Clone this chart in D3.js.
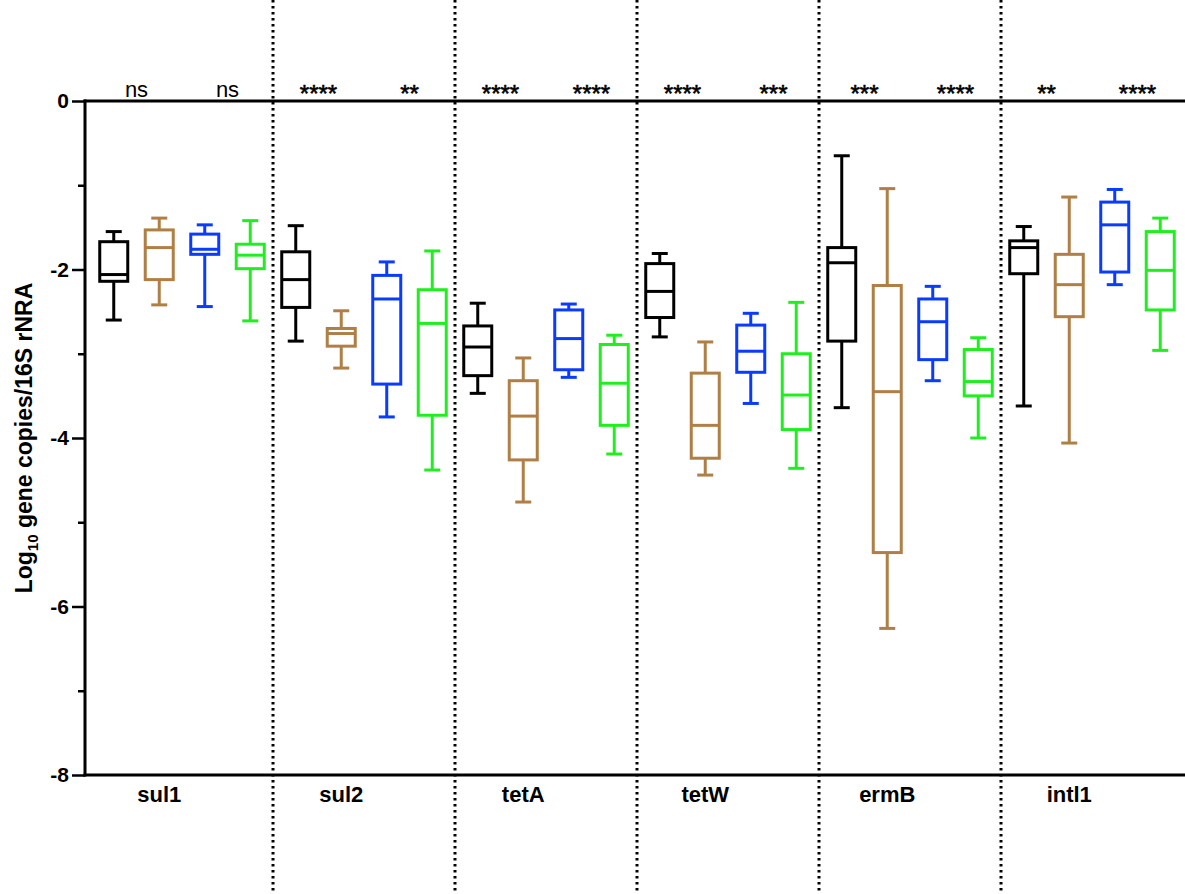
<!DOCTYPE html>
<html><head><meta charset="utf-8">
<script src="https://cdn.jsdelivr.net/npm/d3@7"></script>
<style>
html,body{margin:0;padding:0;background:#fff;}
svg{display:block;font-family:"Liberation Sans",Arial,sans-serif;}
</style></head>
<body><svg id="chart" width="1185" height="894"></svg>
<script>
// ---- data ----
const genes = ["sul1", "sul2", "tetA", "tetW", "ermB", "intl1"];
const seriesNames = ["S1", "S2", "S3", "S4"];
const seriesColors = ["#000000", "#B07F46", "#0A3CFF", "#1EF01E"];
// each entry: [whiskerLow, q1, median, q3, whiskerHigh] per gene
const s1Stats = [
  [-2.60, -2.14, -2.06, -1.67, -1.55],
  [-2.85, -2.45, -2.12, -1.79, -1.48],
  [-3.47, -3.26, -2.92, -2.67, -2.40],
  [-2.80, -2.57, -2.26, -1.93, -1.81],
  [-3.64, -2.85, -1.92, -1.74, -0.65],
  [-3.62, -2.05, -1.74, -1.66, -1.49]
];
const s2Stats = [
  [-2.42, -2.12, -1.74, -1.53, -1.39],
  [-3.17, -2.91, -2.76, -2.70, -2.49],
  [-4.76, -4.26, -3.74, -3.32, -3.05],
  [-4.44, -4.24, -3.85, -3.23, -2.86],
  [-6.26, -5.36, -3.45, -2.19, -1.04],
  [-4.06, -2.56, -2.18, -1.82, -1.14]
];
const s3Stats = [
  [-2.44, -1.82, -1.76, -1.58, -1.47],
  [-3.75, -3.36, -2.35, -2.07, -1.91],
  [-3.28, -3.19, -2.82, -2.48, -2.41],
  [-3.59, -3.22, -2.97, -2.66, -2.52],
  [-3.32, -3.07, -2.62, -2.35, -2.20],
  [-2.18, -2.03, -1.47, -1.20, -1.05]
];
const s4Stats = [
  [-2.61, -1.99, -1.83, -1.70, -1.42],
  [-4.38, -3.73, -2.64, -2.24, -1.78],
  [-4.19, -3.85, -3.35, -2.89, -2.78],
  [-4.36, -3.90, -3.49, -3.00, -2.39],
  [-4.00, -3.50, -3.33, -2.95, -2.81],
  [-2.96, -2.48, -2.01, -1.55, -1.39]
];
const sigLeft = ["ns", "****", "****", "****", "***", "**"];
const sigRight = ["ns", "**", "****", "***", "****", "****"];
const yTicksMajor = [0, -2, -4, -6, -8];
const yTicksMinor = [-1, -3, -5, -7];
const yTitle = "gene copies/16S rNRA";

// ---- layout ----
const svg = d3.select("#chart");
const W = 1185, H = 894;
const axisX = 85;
const y = d3.scaleLinear().domain([-8, 0]).range([775, 101]);
const x = d3.scaleBand().domain(genes).range([91, 1183]).padding(0);
const xi = d3.scaleBand().domain(seriesNames).range([0, x.bandwidth()]).padding(0);
const boxW = 28, capW = 16;
const allStats = [s1Stats, s2Stats, s3Stats, s4Stats];

// dotted separators
genes.slice(1).forEach(g => {
  svg.append("line")
    .attr("x1", x(g)).attr("x2", x(g)).attr("y1", 0).attr("y2", H)
    .attr("stroke", "#000").attr("stroke-width", 3)
    .attr("stroke-dasharray", "2.6,3.4");
});

// horizontal lines at 0 and -8
[0, -8].forEach(v => {
  svg.append("line")
    .attr("x1", axisX - 1.5).attr("x2", W).attr("y1", y(v)).attr("y2", y(v))
    .attr("stroke", "#000").attr("stroke-width", 3);
});

// y axis
const yAxis = d3.axisLeft(y).tickValues(yTicksMajor).tickSize(13).tickPadding(3)
  .tickFormat(d => d === 0 ? "0" : "-" + Math.abs(d));
const gy = svg.append("g").attr("transform", `translate(${axisX},0)`).call(yAxis);
gy.select(".domain").attr("stroke-width", 3).attr("d", `M0,${y(0) - 1.5}V${y(-8) + 1.5}`);
gy.selectAll(".tick line").attr("stroke-width", 2.5);
gy.selectAll(".tick text").attr("font-size", 21).attr("font-weight", "bold")
  .attr("font-family", "'Liberation Sans',Arial,sans-serif").attr("fill", "#000");
const yAxisMinor = d3.axisLeft(y).tickValues(yTicksMinor).tickSize(7).tickFormat("");
const gym = svg.append("g").attr("transform", `translate(${axisX},0)`).call(yAxisMinor);
gym.select(".domain").remove();
gym.selectAll(".tick line").attr("stroke-width", 2.5);

// y title
const tt = svg.append("text")
  .attr("transform", `translate(32,${(y(0) + y(-8)) / 2}) rotate(-90)`)
  .attr("text-anchor", "middle").attr("font-size", 23).attr("font-weight", "bold");
tt.append("tspan").text("Log");
tt.append("tspan").attr("font-size", 15).attr("dy", 6).text("10");
tt.append("tspan").attr("dy", -6).text(" " + yTitle);

// category labels (centered under second series)
genes.forEach(g => {
  svg.append("text")
    .attr("x", x(g) + xi("S2") + xi.bandwidth() / 2)
    .attr("y", 802)
    .attr("text-anchor", "middle").attr("font-size", 22).attr("font-weight", "bold")
    .text(g);
});

// boxes
allStats.forEach((stats, si) => {
  const col = seriesColors[si];
  const s = seriesNames[si];
  stats.forEach((st, gi) => {
    const g = genes[gi];
    const cx = x(g) + xi(s) + xi.bandwidth() / 2;
    const [lo, q1, med, q3, hi] = st;
    const grp = svg.append("g").attr("stroke", col).attr("stroke-width", 3).attr("fill", "none");
    grp.append("line").attr("x1", cx).attr("x2", cx).attr("y1", y(hi)).attr("y2", y(q3));
    grp.append("line").attr("x1", cx).attr("x2", cx).attr("y1", y(q1)).attr("y2", y(lo));
    grp.append("line").attr("x1", cx - capW / 2).attr("x2", cx + capW / 2).attr("y1", y(hi)).attr("y2", y(hi));
    grp.append("line").attr("x1", cx - capW / 2).attr("x2", cx + capW / 2).attr("y1", y(lo)).attr("y2", y(lo));
    grp.append("rect").attr("x", cx - boxW / 2).attr("y", y(q3)).attr("width", boxW).attr("height", y(q1) - y(q3));
    grp.append("line").attr("x1", cx - boxW / 2).attr("x2", cx + boxW / 2).attr("y1", y(med)).attr("y2", y(med));
  });
});

// significance labels
genes.forEach((g, gi) => {
  const c = s => x(g) + xi(s) + xi.bandwidth() / 2;
  [[sigLeft[gi], (c("S1") + c("S2")) / 2], [sigRight[gi], (c("S3") + c("S4")) / 2]].forEach(([t, px]) => {
    const stars = t.indexOf("*") >= 0;
    const el = svg.append("text").attr("x", px).attr("y", stars ? 102 : 97)
      .attr("text-anchor", "middle").attr("font-size", stars ? 24 : 22).text(t);
    if (stars) el.attr("stroke", "#000").attr("stroke-width", 0.6);
  });
});
</script></body></html>
